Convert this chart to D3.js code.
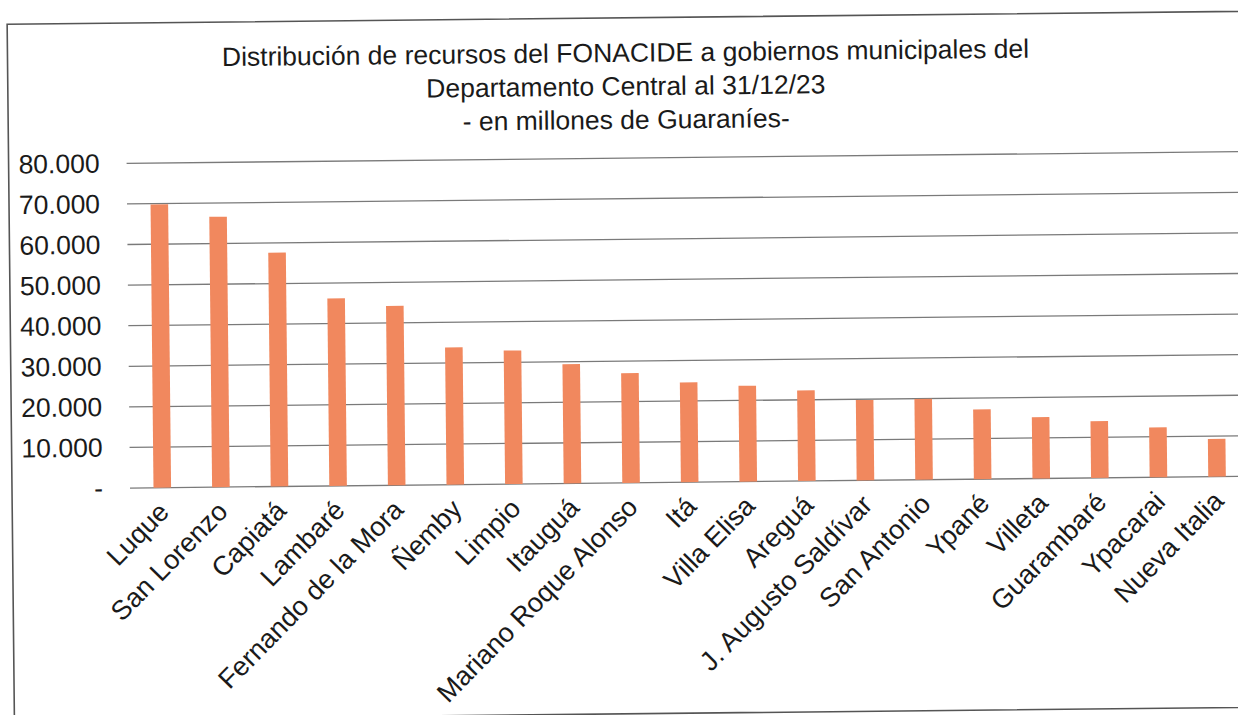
<!DOCTYPE html>
<html>
<head>
<meta charset="utf-8">
<script src="https://cdn.jsdelivr.net/npm/d3@7"></script>
<style>
  html, body { margin: 0; padding: 0; background: #fff; }
  svg { display: block; font-family: "Liberation Sans", Arial, sans-serif; }
</style>
</head>
<body>
<svg id="chart" width="1238" height="715"></svg>
<script>
const categories = ["Luque", "San Lorenzo", "Capiatá", "Lambaré", "Fernando de la Mora", "Ñemby", "Limpio", "Itauguá", "Mariano Roque Alonso", "Itá", "Villa Elisa", "Areguá", "J. Augusto Saldívar", "San Antonio", "Ypané", "Villeta", "Guarambaré", "Ypacarai", "Nueva Italia"];
const values = [69800, 66600, 57600, 46200, 44200, 33800, 32900, 29400, 27000, 24600, 23600, 22300, 19800, 19900, 17200, 15100, 14000, 12300, 9300];
const yTicks = [0, 10000, 20000, 30000, 40000, 50000, 60000, 70000, 80000];
const yTickLabels = ["-", "10.000", "20.000", "30.000", "40.000", "50.000", "60.000", "70.000", "80.000"];
const titleLines = ["Distribución de recursos del FONACIDE a gobiernos municipales del", "Departamento Central al 31/12/23", "- en millones de Guaraníes-"];

(function () {
const svg = d3.select("#chart");
const plotLeft = 133, step = 58.6;
const plotRight = plotLeft + step * categories.length;
const plotBase = 488, plotTop = 163.3;

const g = svg.append("g").attr("transform", `rotate(-0.6, ${plotLeft}, ${plotBase})`);

// frame
g.append("rect")
  .attr("x", 12).attr("y", 23).attr("width", 1500).attr("height", 696)
  .attr("fill", "none").attr("stroke", "#555").attr("stroke-width", 1.6);

const x = d3.scaleBand().domain(categories).range([plotLeft, plotRight]).paddingInner(0.7).paddingOuter(0.35);
const y = d3.scaleLinear().domain([0, 80000]).range([plotBase, plotTop]);

// title
const title = g.append("text").attr("text-anchor", "middle").attr("fill", "#1a1a1a").style("font-size", "26.5px");
titleLines.forEach((t, i) => {
  title.append("tspan").attr("x", 630).attr("y", 67 + i * 33.5).text(t);
});

// gridlines
g.append("g").selectAll("line").data(yTicks).join("line")
  .attr("x1", plotLeft - 3).attr("x2", plotRight + 20)
  .attr("y1", d => y(d)).attr("y2", d => y(d))
  .attr("stroke", "#7a7a7a").attr("stroke-width", 1.3);

// y axis labels
const yAxis = d3.axisLeft(y).tickValues(yTicks).tickSize(0).tickPadding(0)
  .tickFormat((d, i) => yTickLabels[i]);
const ya = g.append("g").attr("transform", "translate(103,0)").call(yAxis);
ya.select(".domain").remove();
ya.selectAll("text").style("font-size", "26.5px").attr("fill", "#1a1a1a").attr("font-family", "Liberation Sans, Arial, sans-serif");

// bars
g.append("g").selectAll("rect").data(values).join("rect")
  .attr("x", (d, i) => x(categories[i]))
  .attr("width", x.bandwidth())
  .attr("y", d => y(d))
  .attr("height", d => y(0) - y(d))
  .attr("fill", "#F1885E");

// x labels
const xAxis = d3.axisBottom(x).tickSize(0).tickPadding(0);
const xa = g.append("g").attr("transform", `translate(0,${plotBase})`).call(xAxis);
xa.select(".domain").remove();
xa.selectAll("text")
  .style("font-size", "27px").attr("fill", "#1a1a1a").attr("font-family", "Liberation Sans, Arial, sans-serif")
  .attr("text-anchor", "end").attr("dy", null).attr("y", null)
  .attr("transform", "translate(8,26) rotate(-45)");
})();
</script>
</body>
</html>
